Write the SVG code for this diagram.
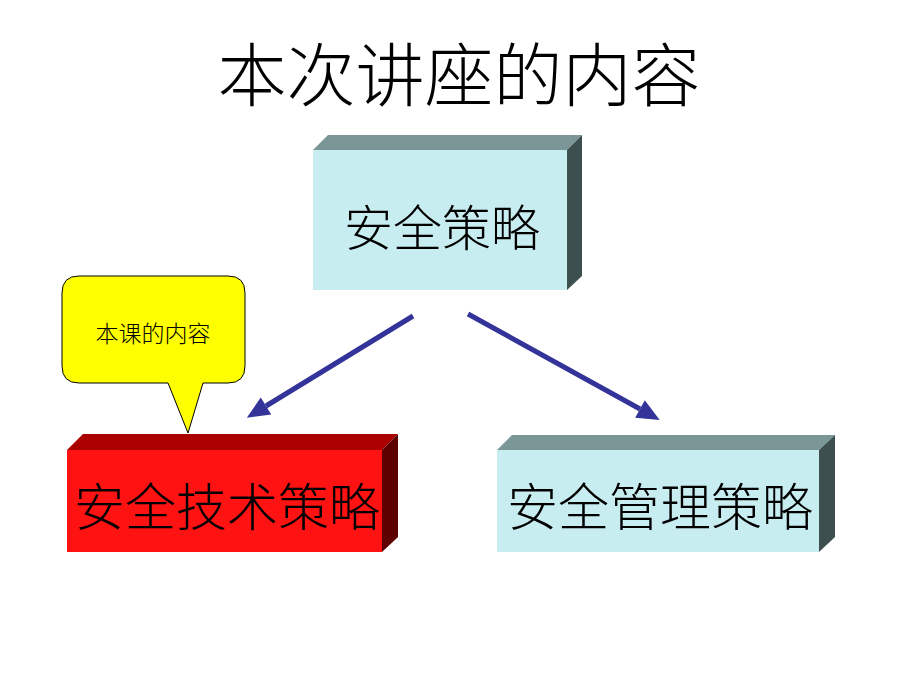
<svg xmlns="http://www.w3.org/2000/svg" width="920" height="690" viewBox="0 0 920 690">
<style>
.title{font-family:"Noto Sans CJK SC","Liberation Serif",serif;font-size:69px;fill:#000;font-weight:300}
.big{font-family:"Noto Sans CJK SC","Liberation Sans",sans-serif;font-size:49px;fill:#000;font-weight:300}
.big2{font-family:"Noto Sans CJK SC","Liberation Sans",sans-serif;font-size:51px;fill:#000;font-weight:300}
.small{font-family:"Noto Sans CJK SC","Liberation Sans",sans-serif;font-size:23px;fill:#000;font-weight:300}
.cf{fill:#c8edf1}
.ct{fill:#7b9696}
.cs{fill:#3e4f4f}
.rf{fill:#fe1212}
.rt{fill:#aa0000}
.rs{fill:#5e0000}
.edge{stroke:#333399;stroke-width:5;fill:none}
</style>
<defs>
<marker id="ah" markerWidth="4.5" markerHeight="4" refX="0" refY="2" orient="auto" markerUnits="strokeWidth" overflow="visible">
<path d="M0,0 L4.5,2 L0,4 z" fill="#333399"/>
</marker>
</defs>
<rect width="920" height="690" fill="#fff"/>
<text class="title" x="459" y="101" text-anchor="middle">本次讲座的内容</text>
<g id="node-policy">
<polygon class="ct" points="313,150 328,135 582,135 567,150"/>
<polygon class="cs" points="567,150 582,135 582,276 567,290"/>
<rect class="cf" x="313" y="150" width="254" height="140"/>
<text class="big" x="442" y="246" text-anchor="middle">安全策略</text>
</g>
<g id="node-tech">
<polygon class="rt" points="67,450 83,434 398,434 382,450"/>
<polygon class="rs" points="382,450 398,434 398,537 382,552"/>
<rect class="rf" x="67" y="450" width="315" height="102"/>
<text class="big2" x="227" y="526" text-anchor="middle">安全技术策略</text>
</g>
<g id="node-mgmt">
<polygon class="ct" points="497,450 512,435 835,435 819,450"/>
<polygon class="cs" points="819,450 835,435 835,537 819,552"/>
<rect class="cf" x="497" y="450" width="322" height="102"/>
<text class="big2" x="660" y="526" text-anchor="middle">安全管理策略</text>
</g>
<g id="callout">
<path d="M79,276 H228 Q245,276 245,293 V366 Q245,383 228,383 H203 L188,433 L168,383 H79 Q62,383 62,366 V293 Q62,276 79,276 Z" fill="#ffff00" stroke="#000" stroke-width="1"/>
<text class="small" x="153" y="342" text-anchor="middle">本课的内容</text>
</g>
<g id="connectors">
<line class="edge" x1="413" y1="316" x2="266" y2="406" marker-end="url(#ah)"/>
<line class="edge" x1="468" y1="314" x2="640" y2="409" marker-end="url(#ah)"/>
</g>
</svg>
